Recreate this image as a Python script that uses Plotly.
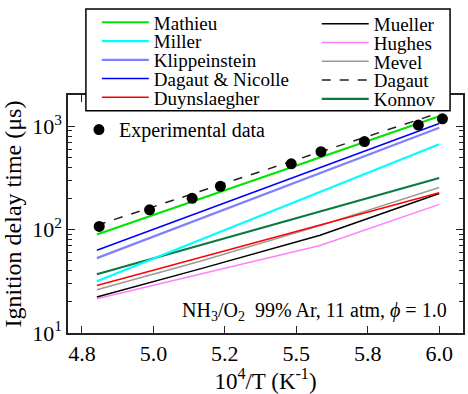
import plotly.graph_objects as go

# ---- data ----
x_exp = [4.858, 5.027, 5.170, 5.265, 5.503, 5.603, 5.749, 5.930, 6.011]
y_exp = [107, 155, 200, 262, 431, 565, 708, 1023, 1175]

x_sim = [4.85, 5.2, 5.6, 6.0]
mathieu = [89.6, 199.5, 499, 1245]
dagaut = [110, 235, 561, 1340]
dagaut_nicolle = [63.1, 148.7, 397, 1059]
klippenstein = [52.9, 128, 351, 963]
miller = [31.7, 80.1, 231, 668]
konnov = [37.0, 70.9, 149, 315]
duynslaegher = [28.8, 54.0, 110, 226.7]
mevel = [26.2, 49.7, 109, 255]
mueller = [22.3, 41.9, 87.9, 223]
hughes = [21.4, 37.1, 70.1, 175]

x_tickvals = [4.8, 5.04, 5.28, 5.52, 5.76, 6.0]
x_ticktext = ["4.8", "5.0", "5.2", "5.5", "5.8", "6.0"]
y_tickvals = [10, 100, 1000]
y_ticktext = ["10<sup>1</sup>", "10<sup>2</sup>", "10<sup>3</sup>"]

FONT = '"Liberation Serif", "Times New Roman", Times, serif'

# name, values, color, width, dash, legend column, legend row
series = [
    ("Hughes", hughes, "#ff80ff", 1.5, "solid", 1, 1),
    ("Mueller", mueller, "#000000", 1.5, "solid", 1, 0),
    ("Mevel", mevel, "#9a9a9a", 1.5, "solid", 1, 2),
    ("Duynslaegher", duynslaegher, "#ff0000", 1.5, "solid", 0, 4),
    ("Konnov", konnov, "#0a7a45", 2.2, "solid", 1, 4),
    ("Miller", miller, "#00ffff", 2.2, "solid", 0, 1),
    ("Klippeinstein", klippenstein, "#8080ff", 2.2, "solid", 0, 2),
    ("Dagaut & Nicolle", dagaut_nicolle, "#0000ff", 1.5, "solid", 0, 3),
    ("Mathieu", mathieu, "#00e600", 2.2, "solid", 0, 0),
    ("Dagaut", dagaut, "#222222", 1.5, "dash", 1, 3),
]

W, H = 468, 394
ML, MR, MT, MB = 68, 3, 92, 61
PW, PH = W - ML - MR, H - MT - MB


def px2paper_x(px):
    return (px - ML) / PW


def px2paper_y(py):
    return (H - MB - py) / PH


fig = go.Figure()
layout_legends = {}
for i, (name, vals, color, width, dash, col, row) in enumerate(series):
    key = "legend" if i == 0 else f"legend{i + 1}"
    fig.add_trace(go.Scatter(
        x=x_sim, y=vals, mode="lines", name=name,
        line=dict(color=color, width=width, dash=dash),
        legend=key, showlegend=True,
    ))
    left_px = 97 if col == 0 else 318
    yc_px = (18.5 + 19.0 * row) if col == 0 else (20.0 + 19.0 * row)
    layout_legends[key] = dict(
        x=px2paper_x(left_px), y=px2paper_y(yc_px),
        xanchor="left", yanchor="middle",
        bgcolor="rgba(0,0,0,0)", borderwidth=0,
        font=dict(family=FONT, size=19, color="black"),
        itemwidth=47,
    )

exp_key = f"legend{len(series) + 1}"
fig.add_trace(go.Scatter(
    x=x_exp, y=y_exp, mode="markers", name="Experimental data",
    marker=dict(color="black", size=11),
    legend=exp_key, showlegend=True,
))
layout_legends[exp_key] = dict(
    x=px2paper_x(79), y=px2paper_y(127),
    xanchor="left", yanchor="middle",
    bgcolor="rgba(0,0,0,0)", borderwidth=0,
    font=dict(family=FONT, size=20, color="black"),
)

fig.update_layout(
    width=W, height=H,
    margin=dict(l=ML, r=MR, t=MT, b=MB, pad=0),
    paper_bgcolor="white", plot_bgcolor="white",
    font=dict(family=FONT, size=22, color="black"),
    showlegend=True,
    **layout_legends,
)

fig.add_shape(
    type="rect", xref="paper", yref="paper",
    x0=px2paper_x(86), x1=px2paper_x(452),
    y0=px2paper_y(108), y1=px2paper_y(5),
    line=dict(color="black", width=1.5), fillcolor="white", layer="above",
)

fig.update_xaxes(
    range=[4.753, 6.080],
    tickmode="array", tickvals=x_tickvals, ticktext=x_ticktext,
    ticks="inside", ticklen=7, tickwidth=1.2, tickcolor="#222",
    showline=True, linecolor="#222", linewidth=1.5, mirror="ticks",
    showgrid=False, zeroline=False,
    tickfont=dict(family=FONT, size=22, color="black"),
    title=dict(text="10<sup>4</sup>/T (K<sup>-1</sup>)",
               font=dict(family=FONT, size=23, color="black"), standoff=2),
)
fig.update_yaxes(
    type="log", range=[1.0, 3.3],
    tickmode="array", tickvals=y_tickvals, ticktext=y_ticktext,
    ticks="inside", ticklen=7, tickwidth=1.2, tickcolor="#222",
    minor=dict(ticks="inside", ticklen=4, tickcolor="#222", dtick="D1", showgrid=False),
    showline=True, linecolor="#222", linewidth=1.5, mirror="ticks",
    showgrid=False, zeroline=False,
    tickfont=dict(family=FONT, size=22, color="black"),
    title=dict(text="Ignition delay time (\u03bcs)",
               font=dict(family=FONT, size=24, color="black"), standoff=6),
)

fig.add_annotation(
    xref="paper", yref="paper",
    x=px2paper_x(451), y=px2paper_y(311), xanchor="right", yanchor="middle",
    text="NH<sub>3</sub>/O<sub>2</sub>\u00a0 99% Ar, 11 atm, <i>\u03d5</i> = 1.0",
    showarrow=False, font=dict(family=FONT, size=20, color="black"),
)

fig.write_html("out.html")
